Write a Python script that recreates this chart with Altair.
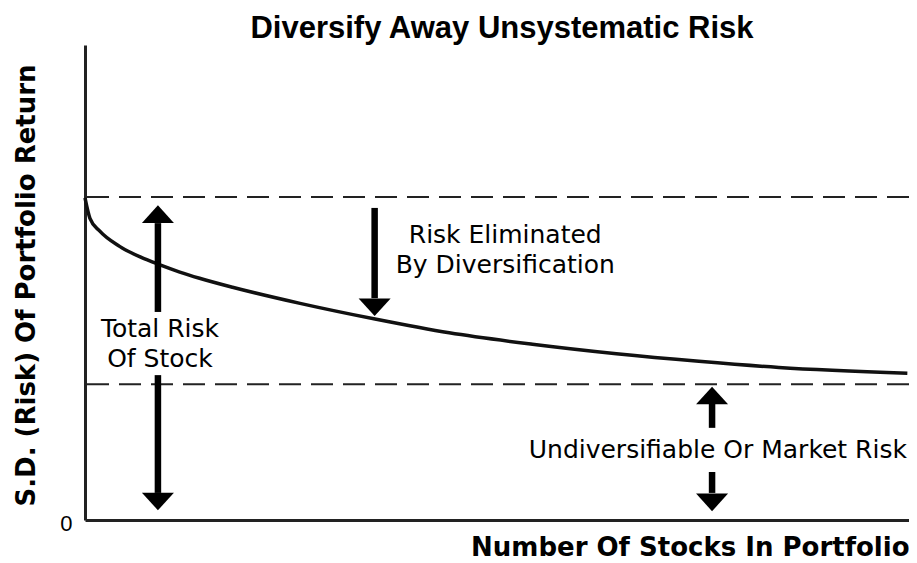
import altair as alt
import pandas as pd

# Curve: portfolio risk vs number of stocks (arbitrary units)
curve_x = [0, 0.6, 1.8, 4.2, 7.5, 9.1, 11.5, 13.9, 17.9, 26.1, 35.2, 44.2, 54.3, 64.5, 74.5, 84.2, 99.8]
curve_y = [67.8, 63.5, 60.8, 57.6, 54.8, 53.7, 52.2, 50.9, 49.0, 45.6, 42.3, 39.4, 37.0, 35.0, 33.4, 32.1, 30.9]

# Horizontal reference levels
total_risk_level = 68.0
market_risk_level = 28.6

# Arrow shafts
shaft_x = [8.85, 8.85, 35.15, 76.1, 76.1]
shaft_y1 = [62.5, 30.5, 65.7, 24.6, 10.1]
shaft_y2 = [43.8, 5.7, 46.7, 19.4, 5.7]

# Arrow heads
head_up_x = [8.85, 76.1]
head_up_y = [64.4, 26.2]
head_down_x = [8.85, 35.15, 76.1]
head_down_y = [3.9, 44.8, 3.7]

# Annotations
label_text = ["Total Risk\nOf Stock", "Risk Eliminated\nBy Diversification", "Undiversifiable Or Market Risk"]
label_x = [9.1, 51.0, 76.8]
label_y = [40.2, 60.0, 14.7]

curve_df = pd.DataFrame({"x": curve_x, "y": curve_y})
levels_df = pd.DataFrame({"y": [total_risk_level, market_risk_level]})
shaft_df = pd.DataFrame({"x": shaft_x, "y": shaft_y1, "y2": shaft_y2})
up_df = pd.DataFrame({"x": head_up_x, "y": head_up_y})
down_df = pd.DataFrame({"x": head_down_x, "y": head_down_y})
label_df = pd.DataFrame({"x": label_x, "y": label_y, "t": label_text})

xs = alt.Scale(domain=[0, 100], nice=False, zero=False)
ys = alt.Scale(domain=[0, 100], nice=False, zero=False)

AX = dict(domainColor="#222222", domainWidth=3, ticks=False, grid=False)

x_axis = alt.Axis(values=[], title="Number Of Stocks In Portfolio", titleFont="DejaVu Sans",
                  titleFontSize=26, titleFontWeight="bold", titleColor="#000000",
                  titleAnchor="end", titleAlign="right", titleX=824, titleY=27,
                  titleBaseline="middle", labels=False, **AX)
y_axis = alt.Axis(values=[0], title="S.D. (Risk) Of Portfolio Return", titleFont="DejaVu Sans",
                  titleFontSize=26, titleFontWeight="bold", titleColor="#000000",
                  titleAngle=-90, titleAlign="center", titleBaseline="middle",
                  titleX=-59, titleY=240, labelFont="Liberation Sans", labelFontSize=22,
                  labelColor="#000000", labelPadding=13, labelOffset=3, **AX)

curve = alt.Chart(curve_df).mark_line(color="#111111", strokeWidth=3.5, interpolate="monotone").encode(
    x=alt.X("x:Q", scale=xs, axis=x_axis),
    y=alt.Y("y:Q", scale=ys, axis=y_axis),
)

levels = alt.Chart(levels_df).mark_rule(color="#222222", strokeWidth=2, strokeDash=[22, 10]).encode(
    y=alt.Y("y:Q", scale=ys)
)

shafts = alt.Chart(shaft_df).mark_rule(color="#000000", strokeWidth=6.5).encode(
    x=alt.X("x:Q", scale=xs), y=alt.Y("y:Q", scale=ys), y2="y2:Q"
)

up_heads = alt.Chart(up_df).mark_point(
    shape="M0,-0.55L1,0.55L-1,0.55Z", filled=True, color="#000000", opacity=1, size=1024, strokeWidth=0
).encode(x=alt.X("x:Q", scale=xs), y=alt.Y("y:Q", scale=ys))

down_heads = alt.Chart(down_df).mark_point(
    shape="M0,0.55L1,-0.55L-1,-0.55Z", filled=True, color="#000000", opacity=1, size=1024, strokeWidth=0
).encode(x=alt.X("x:Q", scale=xs), y=alt.Y("y:Q", scale=ys))

labels = alt.Chart(label_df).mark_text(
    font="DejaVu Sans", fontSize=25, color="#000000", align="center", baseline="middle",
    lineBreak="\n", lineHeight=30
).encode(x=alt.X("x:Q", scale=xs), y=alt.Y("y:Q", scale=ys), text="t:N")

chart = alt.layer(levels, curve, shafts, up_heads, down_heads, labels).properties(
    width=824, height=475,
    title=alt.TitleParams("Diversify Away Unsystematic Risk", font="Liberation Sans", fontSize=31,
                          fontWeight="bold", color="#000000", anchor="middle", dx=5, offset=0),
    autosize=alt.AutoSizeParams(type="none"),
    padding={"left": 77, "top": 37, "right": 0, "bottom": 40},
).configure_view(stroke=None)

chart.save("out.html", embed_options={"renderer": "svg", "actions": False})
